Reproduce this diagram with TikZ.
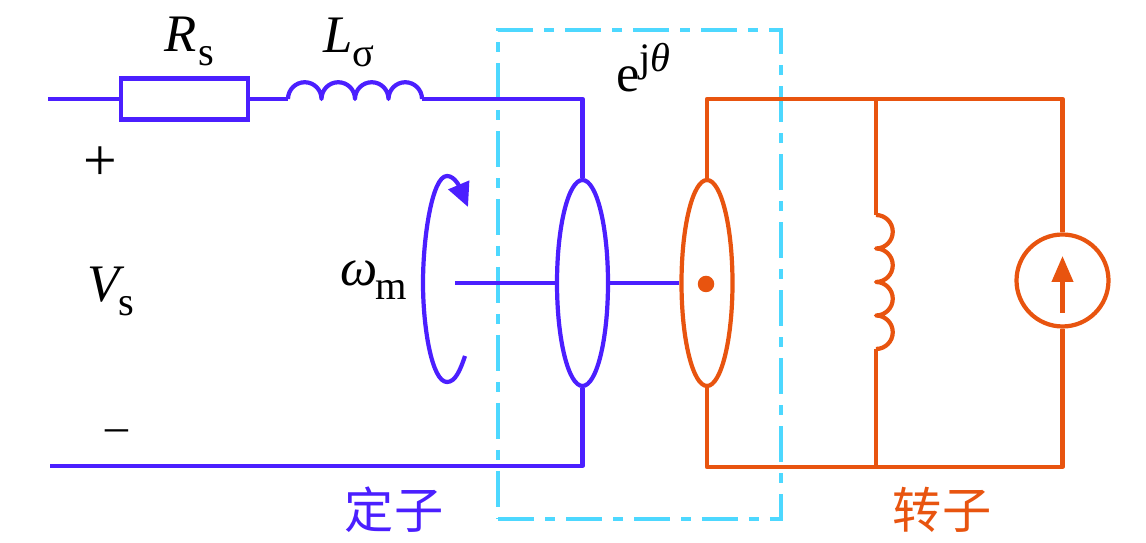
\documentclass[tikz,border=0pt]{standalone}
\usepackage{fontspec}
\setmainfont{Liberation Serif}
\newfontfamily\cjk{Noto Sans CJK SC}
\usetikzlibrary{arrows.meta,shapes.geometric}
\definecolor{statorblue}{HTML}{4B1FFF}
\definecolor{rotororange}{HTML}{E8540F}
\definecolor{framecyan}{HTML}{4DD8FF}
\newcommand{\subtxt}[1]{\raisebox{-0.25em}{\fontsize{23}{23}\selectfont #1}}
\newcommand{\suptxt}[1]{\raisebox{0.38em}{\fontsize{23}{23}\selectfont #1}}
\tikzset{
    wire/.style={line width=2.4pt, line join=round},
    stator/.style={wire, draw=statorblue},
    rotor/.style={wire, draw=rotororange},
    disc/.style={ellipse, inner sep=0pt, minimum width=1.02cm, minimum height=4.12cm},
    label/.style={inner sep=0pt, anchor=base west, font=\fontsize{30}{30}\selectfont},
    cjklabel/.style={inner sep=0pt, font=\cjk\fontsize{28}{28}\selectfont}
}
\begin{document}
\begin{tikzpicture}[x=0.02cm, y=0.02cm]
    \useasboundingbox (0,0) rectangle (1146,543);

    % Cadre pointillé
    \node[draw=framecyan, line width=2.2pt, dash pattern=on 0.72cm off 0.22cm on 0.2cm off 0.22cm, minimum width=5.66cm, minimum height=9.78cm, inner sep=0pt] (frame) at (639.5,268.5) {};

    % Points du stator
    \coordinate (inTop) at (48,444);
    \coordinate (inBot) at (50,77);
    \coordinate (coilSL) at (288,444);
    \coordinate (coilSR) at (422,444);
    \coordinate (cornerS) at (582.5,444);
    \coordinate (cornerSB) at (582.5,77);
    \coordinate (shaftL) at (455,260);

    % Stator
    \node[draw=statorblue, line width=2.4pt, minimum width=2.54cm, minimum height=0.82cm, inner sep=0pt] (Rs) at (184.5,444) {};
    \node[stator, draw, disc] (statorDisc) at (582.5,260) {};
    \draw[stator] (inTop) -- (Rs);
    \draw[stator] (Rs) -- (coilSL);
    \draw[stator] (coilSL) arc[start angle=180, end angle=0, radius=16.75]
        arc[start angle=180, end angle=0, radius=16.75]
        arc[start angle=180, end angle=0, radius=16.75]
        arc[start angle=180, end angle=0, radius=16.75];
    \draw[stator] (coilSR) -- (cornerS) -- (statorDisc.north);
    \draw[stator] (statorDisc.south) -- (cornerSB) -- (inBot);
    \draw[stator] (shaftL) -- (statorDisc.west);

    % Rotor
    \node[rotor, draw, disc] (rotorDisc) at (707,260) {};
    \node[fill=rotororange, circle, inner sep=0pt, minimum size=0.33cm] (rotorDot) at (706,259) {};
    \node[rotor, draw, circle, inner sep=0pt, minimum size=1.84cm] (source) at (1062.5,262.5) {};
    \coordinate (cornerRA) at (707,444);
    \coordinate (cornerRB) at (1062.5,444);
    \coordinate (cornerRC) at (1062.5,76);
    \coordinate (cornerRD) at (707,76);
    \coordinate (coilTopOut) at (876,444);
    \coordinate (coilT) at (876,328);
    \coordinate (coilB) at (876,194);
    \coordinate (coilBotOut) at (876,76);
    \coordinate (srcTail) at (1062.5,230);
    \coordinate (srcTip) at (1062.5,287);
    \draw[rotor] (rotorDisc.north) -- (cornerRA) -- (cornerRB) -- (source.north);
    \draw[rotor] (source.south) -- (cornerRC) -- (cornerRD) -- (rotorDisc.south);
    \draw[rotor] (coilTopOut) -- (coilT);
    \draw[rotor] (coilT) arc[start angle=90, end angle=-90, radius=16.75]
        arc[start angle=90, end angle=-90, radius=16.75]
        arc[start angle=90, end angle=-90, radius=16.75]
        arc[start angle=90, end angle=-90, radius=16.75];
    \draw[rotor] (coilB) -- (coilBotOut);
    \draw[rotor, -{Triangle[length=0.52cm, width=0.42cm]}] (srcTail) -- (srcTip);
    \draw[stator] (statorDisc.east) -- (rotorDisc.west);

    % Fleche de rotation
    \coordinate (rotEnd) at (465,187);
    \coordinate (rotTip) at (468,336);
    \draw[stator, -{Triangle[length=0.48cm, width=0.44cm]}] (rotEnd) .. controls (460,172) and (455,161) .. (447,161)
        .. controls (432,161) and (423,215) .. (423,260)
        .. controls (423,305) and (432,367) .. (447,367)
        .. controls (455,367) and (460,355) .. (rotTip);

    % Textes
    \node[label] (lblR) at (164,491) {\textit{R}\kern0.04em\subtxt{s}};
    \node[label] (lblL) at (323,490) {\textit{L}\subtxt{σ}};
    \node[label] (lblE) at (616,451) {e\suptxt{j\textit{θ}}};
    \node[label, anchor=center, font=\fontsize{34}{34}\selectfont] (lblPlus) at (100,379) {+};
    \node[label, anchor=center, font=\fontsize{26}{26}\selectfont] (lblMinus) at (117,107) {–};
    \node[label] (lblV) at (87,241) {\textit{V}\kern-0.12em\subtxt{s}};
    \node[label] (lblW) at (340,257) {\textit{ω}\kern-0.04em\subtxt{m}};
    \node[cjklabel, text=statorblue] (lblStator) at (394,33) {定子};
    \node[cjklabel, text=rotororange] (lblRotor) at (942,33) {转子};
\end{tikzpicture}
\end{document}
